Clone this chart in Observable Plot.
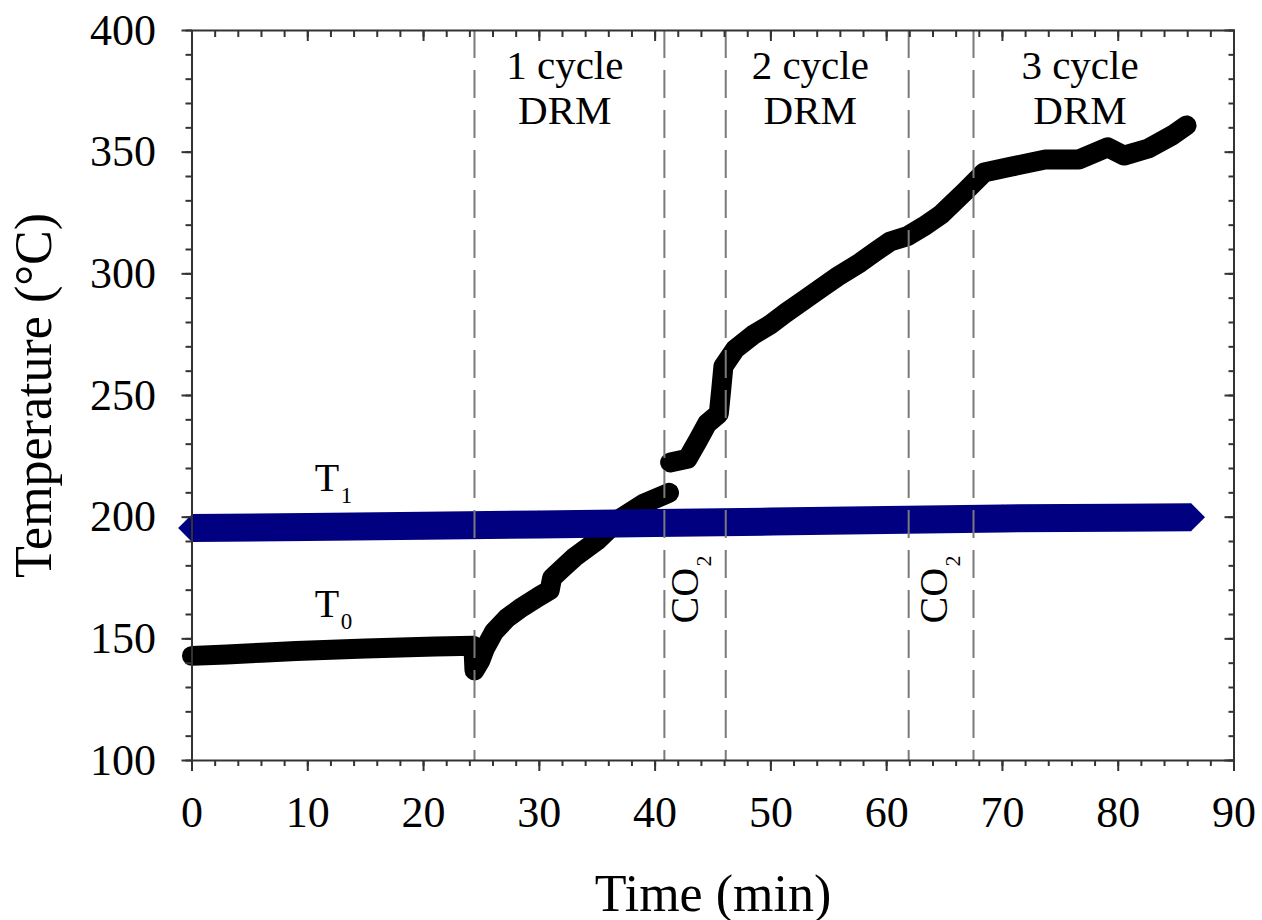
<!DOCTYPE html>
<html>
<head>
<meta charset="utf-8">
<script src="https://cdn.jsdelivr.net/npm/d3@7"></script>
<script src="https://cdn.jsdelivr.net/npm/@observablehq/plot@0.6"></script>
<style>
  html, body { margin: 0; padding: 0; background: #fff; }
  #chart svg { display: block; }
</style>
</head>
<body>
<div id="chart"></div>
<script>
// ---- Data ----
// Black curve (T0 measured temperature); run 1 and run 2 are separated by a gap at ~41 min
const curveTime = [0, 3, 6, 9, 12, 15, 18, 21, 24.3, 24.4, 24.9, 25.3, 26.1, 27.2, 28.5, 30, 30.9, 31.1, 32, 33, 35, 37, 39, 41.2,
                   41.3, 42.8, 43.7, 44.5, 45.5, 45.7, 45.9, 46.9, 48.5, 49.9, 51.3, 52.8, 54.3, 55.8, 57.7, 59, 60.3, 61.8, 63.2, 64.7, 66.8, 68.4, 70.7, 73.7, 76.6, 79.1, 80.5, 82.6, 84.7, 85.9];
const curveTemp = [143.0, 143.6, 144.3, 145.0, 145.5, 146.0, 146.4, 146.8, 147.2, 137, 141, 146, 153, 158.5, 163, 167.5, 170, 175, 179, 183.4, 190.4, 199.5, 205.5, 210,
                   222.5, 224, 231.5, 238.5, 242.5, 252, 262, 269, 275, 279, 284, 289, 294, 299, 304.6, 309, 313.3, 315.5, 319.5, 324.4, 334, 341.6, 344, 347, 347, 352, 348.6, 351.5, 357, 361];
const curveRun = [1, 1, 1, 1, 1, 1, 1, 1, 1, 1, 1, 1, 1, 1, 1, 1, 1, 1, 1, 1, 1, 1, 1, 1,
                  2, 2, 2, 2, 2, 2, 2, 2, 2, 2, 2, 2, 2, 2, 2, 2, 2, 2, 2, 2, 2, 2, 2, 2, 2, 2, 2, 2, 2, 2];

// Blue band (T1 set temperature)
const t1Time = [0, 10, 20, 30, 40, 50, 60, 70, 80, 86.3];
const t1Temp = [195.5, 196, 196.5, 197, 197.6, 198.2, 198.8, 199.5, 199.8, 200];

// Gas-switch times (dashed lines)
const switchTimes = [24.4, 40.8, 46.1, 61.9, 67.5];

// Annotations
const cycleLabels = ["1 cycle\nDRM", "2 cycle\nDRM", "3 cycle\nDRM"];
const cycleLabelTime = [32.2, 53.4, 76.7];
const co2Time = [43.74, 65.2];
const co2Temp = [156.3, 156.3];
const tLabelMain = ["T", "T"];
const tLabelSub = ["1", "0"];
const tLabelTime = [10.6, 10.6];
const tLabelTemp = [210.9, 158.9];

// Axes
const xTicks = [0, 10, 20, 30, 40, 50, 60, 70, 80, 90];
const xMinorTicks = d3.range(0, 91, 2);
const yTicks = [100, 150, 200, 250, 300, 350, 400];
const yMinorTicks = d3.range(100, 401, 10);
const xTitle = "Time (min)";
const yTitle = "Temperature (°C)";

// ---- Build tables ----
const curve = curveTime.map((t, i) => ({t, T: curveTemp[i], run: curveRun[i]}));
const t1 = t1Time.map((t, i) => ({t, T: t1Temp[i]}));
const cycles = cycleLabels.map((s, i) => ({t: cycleLabelTime[i], s}));
const co2 = co2Time.map((t, i) => ({t, T: co2Temp[i]}));
const tLabels = tLabelMain.map((s, i) => ({t: tLabelTime[i], T: tLabelTemp[i], s, sub: tLabelSub[i]}));

const axisColor = "#333";
const empty = () => "";

const chart = Plot.plot({
  width: 1262,
  height: 920,
  marginLeft: 191.5,
  marginRight: 28.5,
  marginTop: 30,
  marginBottom: 160,
  style: {fontFamily: "'Liberation Serif', 'Times New Roman', serif", background: "#fff", color: "#000"},
  x: {domain: [0, 90]},
  y: {domain: [100, 400]},
  marks: [
    // black measured curve
    Plot.line(curve, {x: "t", y: "T", z: "run", stroke: "#000", strokeWidth: 20, strokeLinecap: "round", strokeLinejoin: "round"}),
    // blue T1 band
    Plot.line(t1, {x: "t", y: "T", stroke: "#000080", strokeWidth: 28, strokeLinecap: "butt"}),
    Plot.dot(t1, {x: "t", y: "T", symbol: "diamond2", r: 12.5, fill: "#000080", stroke: "none"}),
    // dashed switch lines
    Plot.ruleX(switchTimes, {stroke: "#7a7a7a", strokeWidth: 2, strokeDasharray: "28,12"}),
    // frame
    Plot.frame({stroke: axisColor, strokeWidth: 2}),
    // axes
    Plot.axisX({ticks: xTicks, tickSize: 11, tickPadding: 24, fontSize: 44, label: null, stroke: axisColor, strokeWidth: 2, fill: "#000"}),
    Plot.axisX({ticks: xMinorTicks, tickSize: 6, tickFormat: empty, label: null, stroke: axisColor, strokeWidth: 2}),
    Plot.axisX({anchor: "top", ticks: xTicks, tickSize: -10, tickFormat: empty, label: null, stroke: axisColor, strokeWidth: 2}),
    Plot.axisX({anchor: "top", ticks: xMinorTicks, tickSize: -6, tickFormat: empty, label: null, stroke: axisColor, strokeWidth: 2}),
    Plot.axisY({ticks: yTicks, tickSize: 10, tickPadding: 26, fontSize: 44, label: null, stroke: axisColor, strokeWidth: 2, fill: "#000"}),
    Plot.axisY({ticks: yMinorTicks, tickSize: 6, tickFormat: empty, label: null, stroke: axisColor, strokeWidth: 2}),
    Plot.axisY({anchor: "right", ticks: yTicks, tickSize: -10, tickFormat: empty, label: null, stroke: axisColor, strokeWidth: 2}),
    Plot.axisY({anchor: "right", ticks: yMinorTicks, tickSize: -6, tickFormat: empty, label: null, stroke: axisColor, strokeWidth: 2}),
    // axis titles
    Plot.text([xTitle], {text: d => d, frameAnchor: "bottom", dy: 150, lineAnchor: "bottom", fontSize: 52, fill: "#000"}),
    Plot.text([yTitle], {text: d => d, frameAnchor: "left", dx: -141.5, rotate: -90, lineAnchor: "bottom", textAnchor: "middle", fontSize: 52, fill: "#000"}),
    // cycle labels
    Plot.text(cycles, {x: "t", text: "s", frameAnchor: "top", dy: 16, lineAnchor: "top", lineHeight: 1.1, fontSize: 41, fill: "#000"}),
    // CO2 labels (rotated)
    Plot.text(co2, {x: "t", y: "T", text: () => "CO", rotate: -90, textAnchor: "start", lineAnchor: "bottom", fontSize: 40, fill: "#000"}),
    Plot.text(co2, {x: "t", y: "T", text: () => "2", rotate: -90, textAnchor: "start", lineAnchor: "bottom", dx: 13, dy: -57, fontSize: 22, fill: "#000"}),
    // T0 / T1 labels
    Plot.text(tLabels, {x: "t", y: "T", text: "s", textAnchor: "start", lineAnchor: "bottom", fontSize: 40, fill: "#000"}),
    Plot.text(tLabels, {x: "t", y: "T", text: "sub", textAnchor: "start", lineAnchor: "bottom", dx: 26, dy: 12, fontSize: 23, fill: "#000"})
  ]
});

document.getElementById("chart").appendChild(chart);
</script>
</body>
</html>
